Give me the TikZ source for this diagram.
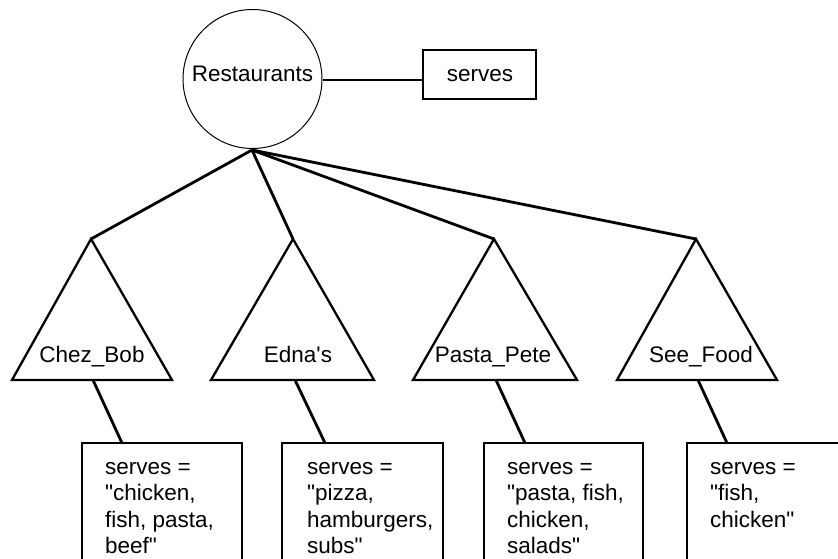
\documentclass[tikz,border=0pt]{standalone}
\usepackage{fontspec}
\setmainfont{Liberation Sans}
\newcommand{\qd}{\textquotedbl}
\begin{document}
\begin{tikzpicture}[x=1pt,y=-1pt,
  txt/.style={font=\fontsize{22.5}{26.5}\selectfont, inner sep=0pt},
  conn/.style={line width=2.8pt},
  tri/.style={line width=2.3pt, line join=miter},
  valbox/.style={line width=2.2pt},
  valtxt/.style={txt, anchor=north west, align=left}]
\useasboundingbox (0,0) rectangle (838,559);
\clip (0,0) rectangle (838,559);
% root
\node[draw, circle, line width=1pt, minimum size=139pt, inner sep=0pt] (rest) at (252.5,79) {};
\node[txt, anchor=base] (restlbl) at (252.5,82) {Restaurants};
\node[draw, line width=1.8pt, minimum width=113pt, minimum height=49pt, inner sep=0pt] (serves) at (479.5,74.5) {};
\node[txt, anchor=base] (serveslbl) at (480,82) {serves};
\draw[conn] (rest.east |- 0,80) -- (serves.west |- 0,80);
\coordinate (root) at (252,150);
% triangles
\foreach \n/\ax/\l/\r/\lab/\lx in {a/91/12/172/Chez\_Bob/92, b/293/211/374/Edna\textquotesingle s/298, c/494/413/577/Pasta\_Pete/493, d/696/617/777/See\_Food/701}{
  \coordinate (apex\n) at (\ax,239);
  \coordinate (base\n) at (\ax+2,380);
  \draw[tri] (apex\n) -- (\l,380) -- (\r,380) -- cycle;
  \node[txt, anchor=base] (lab\n) at (\lx,362) {\lab};
  \draw[conn] (root) -- (apex\n);
}
% value boxes
\foreach \n/\bl/\br/\tx/\tip/\txt in {
  a/82/242/105/122/{\strut serves =\\\qd chicken,\\fish, pasta,\\beef\qd},
  b/282/443/307/325/{\strut serves =\\\qd pizza,\\hamburgers,\\subs\qd},
  c/484/643/507/525/{\strut serves =\\\qd pasta, fish,\\chicken,\\salads\qd},
  d/687/880/710/727/{\strut serves =\\\qd fish,\\chicken\qd}}{
  \draw[valbox] (\bl,600) -- (\bl,443) -- (\br,443) -- (\br,600);
  \coordinate (top\n) at (\tip,443);
  \node[valtxt] (val\n) at (\tx,455.5) {\txt};
  \draw[conn] (base\n) -- (top\n);
}
\end{tikzpicture}
\end{document}
